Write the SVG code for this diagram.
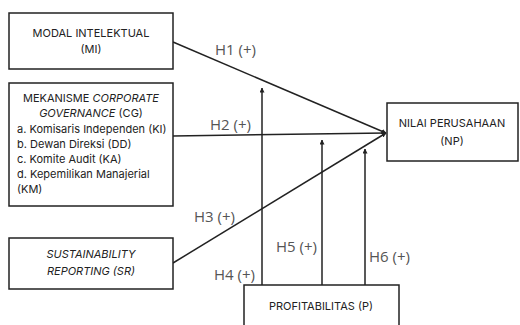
<svg xmlns="http://www.w3.org/2000/svg" width="520" height="325" viewBox="0 0 520 325">
<defs>
<style>
.box{fill:#fff;stroke:#222;stroke-width:1.5}
.t{font-family:Inter,"Liberation Sans",sans-serif;font-size:11px;fill:#222}
.c{text-anchor:middle}
.i{font-style:italic}
.h{font-family:"Open Sans","Liberation Sans",sans-serif;font-size:15px;fill:#555}
.ln{stroke:#222;stroke-width:1.5;fill:none}
</style>
<marker id="ah" viewBox="0 0 10 10" refX="9" refY="5" markerWidth="5" markerHeight="5" orient="auto" markerUnits="userSpaceOnUse">
<path d="M0,0 L10,5 L0,10 z" fill="#222"/>
</marker>
</defs>
<rect width="520" height="325" fill="#fff"/>
<g id="connectors">
<line class="ln" x1="173" y1="42" x2="386" y2="133" marker-end="url(#ah)"/>
<line class="ln" x1="173" y1="136" x2="386" y2="133" marker-end="url(#ah)"/>
<line class="ln" x1="173" y1="263" x2="386" y2="133" marker-end="url(#ah)"/>
<line class="ln" x1="262" y1="285" x2="262" y2="88" marker-end="url(#ah)"/>
<line class="ln" x1="322" y1="285" x2="322" y2="140" marker-end="url(#ah)"/>
<line class="ln" x1="365" y1="285" x2="365" y2="149" marker-end="url(#ah)"/>
<text class="h" x="215" y="55">H1 (+)</text>
<text class="h" x="210" y="130">H2 (+)</text>
<text class="h" x="194" y="222">H3 (+)</text>
<text class="h" x="214" y="280">H4 (+)</text>
<text class="h" x="276" y="252">H5 (+)</text>
<text class="h" x="369" y="262">H6 (+)</text>
</g>
<g id="MI">
<rect class="box" x="9" y="13" width="164" height="56"/>
<text class="t c" x="91" y="37">MODAL INTELEKTUAL</text>
<text class="t c" x="91" y="53">(MI)</text>
</g>
<g id="CG">
<rect class="box" x="9" y="83" width="164" height="123"/>
<text class="t c" x="91" y="102">MEKANISME <tspan class="i">CORPORATE</tspan></text>
<text class="t c" x="91" y="117"><tspan class="i">GOVERNANCE</tspan> (CG)</text>
<text class="t" x="17" y="133">a. Komisaris Independen (KI)</text>
<text class="t" x="17" y="148">b. Dewan Direksi (DD)</text>
<text class="t" x="17" y="163">c. Komite Audit (KA)</text>
<text class="t" x="17" y="178">d. Kepemilikan Manajerial</text>
<text class="t" x="17" y="193">(KM)</text>
</g>
<g id="SR">
<rect class="box" x="9" y="238" width="164" height="51"/>
<text class="t c i" x="91" y="258">SUSTAINABILITY</text>
<text class="t c i" x="91" y="275">REPORTING (SR)</text>
</g>
<g id="NP">
<rect class="box" x="387" y="103" width="131" height="58"/>
<text class="t c" x="452" y="127">NILAI PERUSAHAAN</text>
<text class="t c" x="452" y="145">(NP)</text>
</g>
<g id="P">
<rect class="box" x="244" y="285" width="155" height="45"/>
<text class="t c" x="321" y="310">PROFITABILITAS (P)</text>
</g>
</svg>
